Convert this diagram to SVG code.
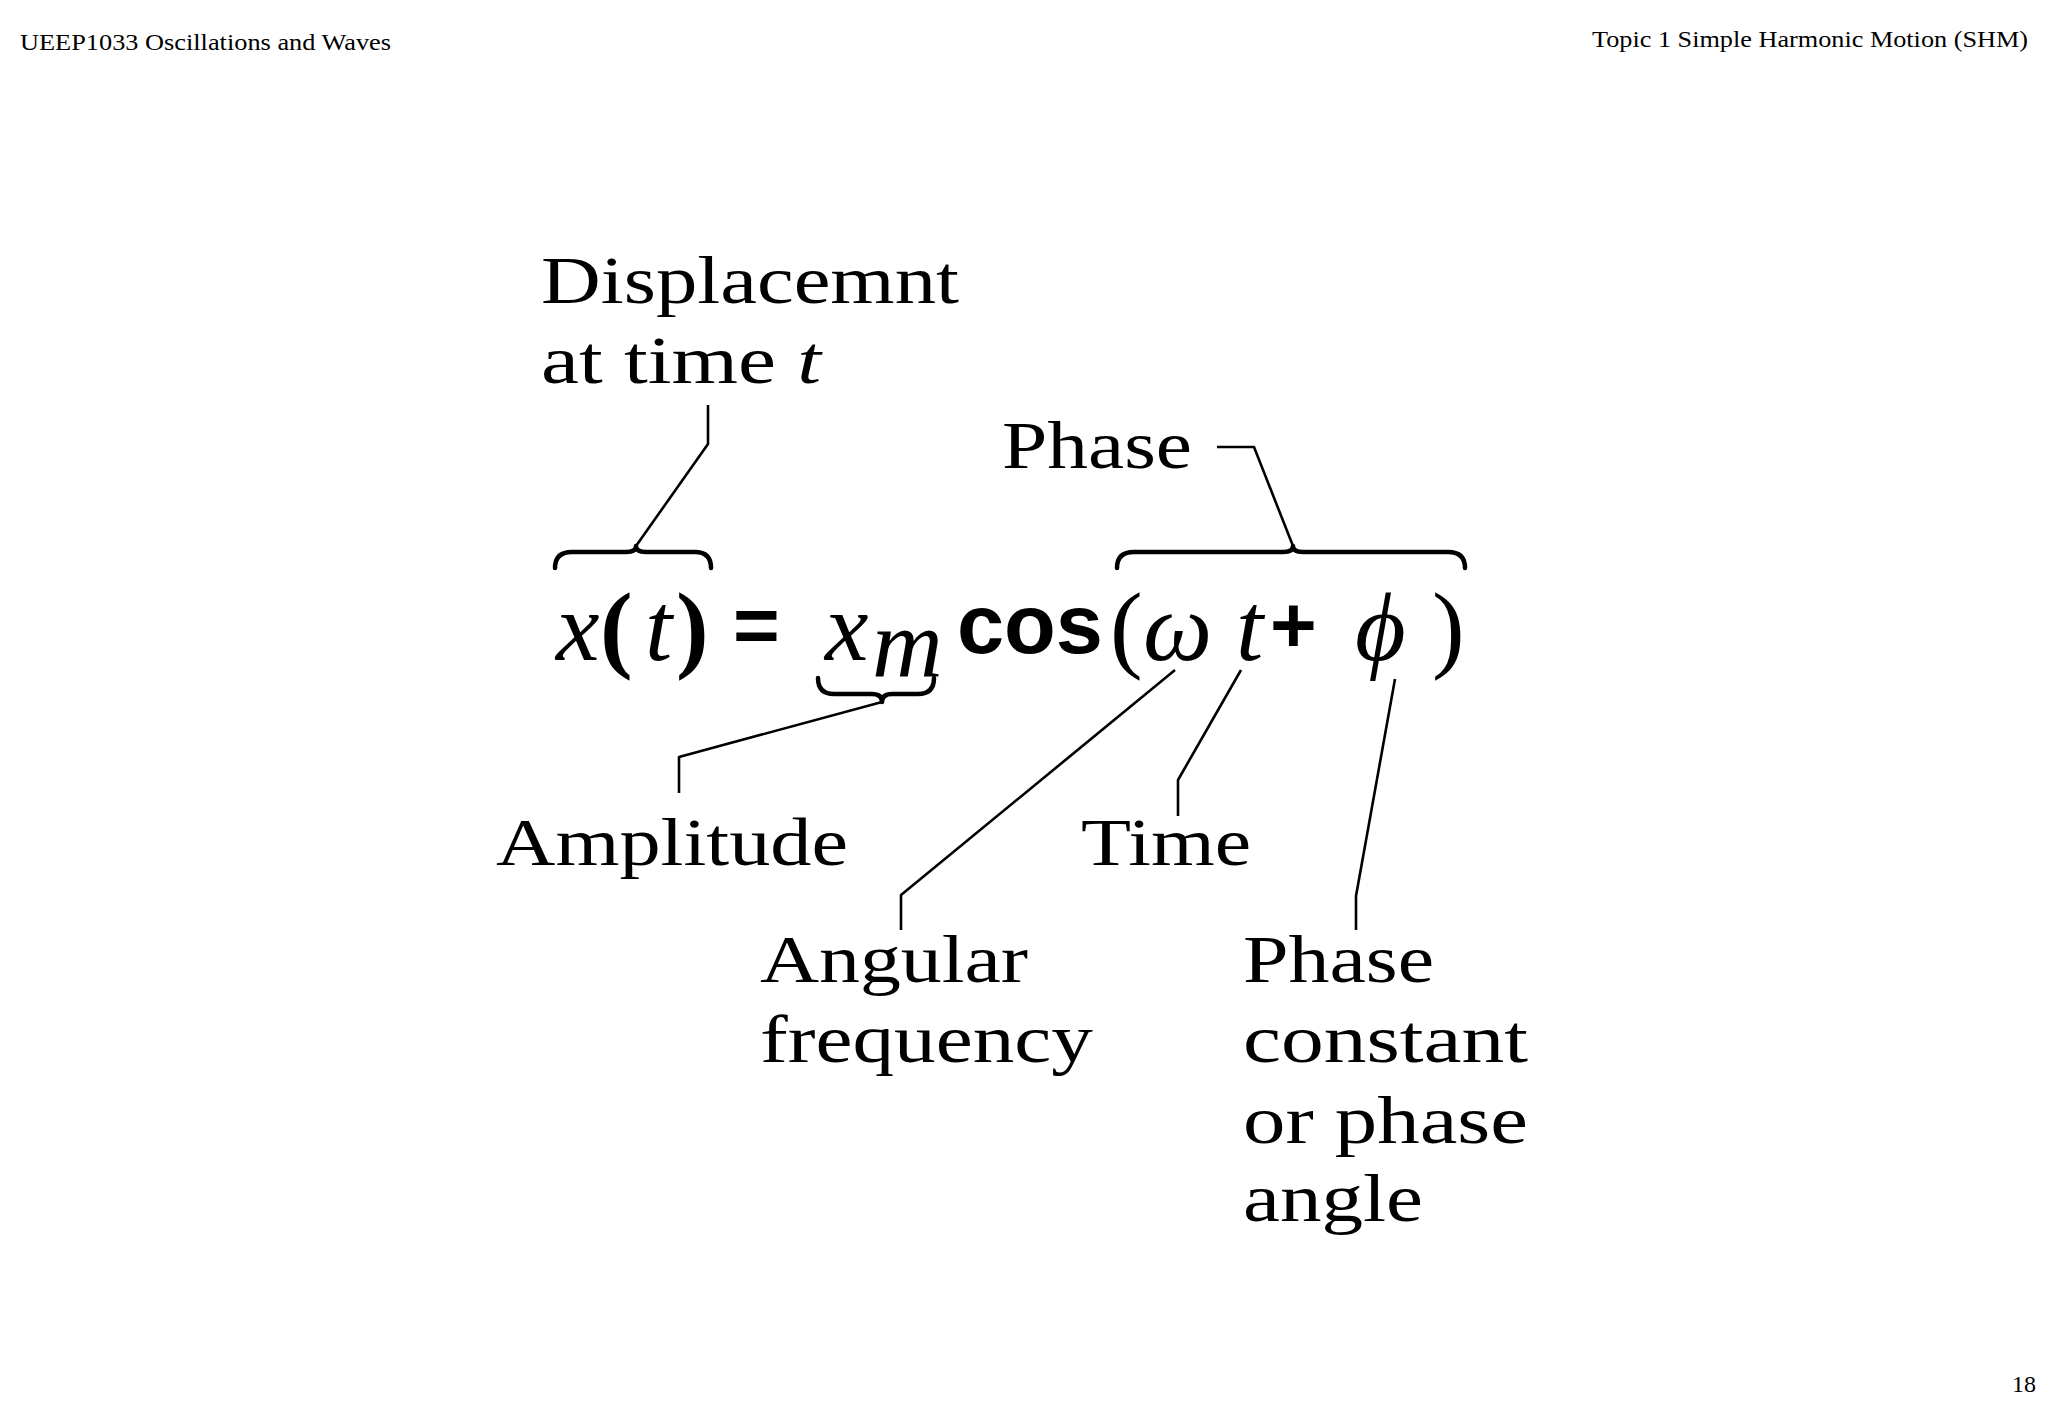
<svg xmlns="http://www.w3.org/2000/svg" width="2048" height="1418" viewBox="0 0 2048 1418">
<style>
.hd{font-family:"Liberation Serif",serif;font-size:24px;fill:#000}
.lb{font-family:"Liberation Serif",serif;font-size:68px;fill:#000}
.eq{font-family:"Liberation Serif",serif;font-style:italic;font-size:98px;fill:#000}
.eqn{font-family:"Liberation Serif",serif;font-size:98px;fill:#000}
.bd{font-family:"Liberation Sans",sans-serif;font-weight:bold;fill:#000}
.ln{fill:none;stroke:#000;stroke-width:2.6;stroke-linejoin:round}
.br{fill:none;stroke:#000;stroke-width:4.5;stroke-linejoin:round;stroke-linecap:round}
</style>
<rect width="2048" height="1418" fill="#fff"/>
<g id="header">
<text class="hd" x="20" y="50" textLength="371" lengthAdjust="spacingAndGlyphs">UEEP1033 Oscillations and Waves</text>
<text class="hd" x="1592" y="47" textLength="436" lengthAdjust="spacingAndGlyphs">Topic 1 Simple Harmonic Motion (SHM)</text>
<text class="hd" x="2012" y="1392">18</text>
</g>
<g id="equation">
<text class="eq" x="556" y="660">x</text>
<text class="eqn" x="600" y="660" font-weight="bold">(</text>
<text class="eq" x="645" y="660">t</text>
<text class="eqn" x="676" y="660" font-weight="bold">)</text>
<text class="bd" x="733" y="652" font-size="80">=</text>
<text class="eq" x="825" y="660">x</text>
<text class="eq" x="872" y="676" font-size="66">m</text>
<text class="bd" x="957" y="653" font-size="84" textLength="146" lengthAdjust="spacingAndGlyphs">cos</text>
<text class="eqn" x="1110" y="660">(</text>
<text class="eq" x="1143" y="660">ω</text>
<text class="eq" x="1236" y="660">t</text>
<text class="bd" x="1270" y="652" font-size="80">+</text>
<text class="eq" x="1355" y="660">ϕ</text>
<text class="eqn" x="1432" y="660">)</text>
</g>
<g id="n-displacement">
<text class="lb" x="541" y="303" textLength="418" lengthAdjust="spacingAndGlyphs">Displacemnt</text>
<text class="lb" x="541" y="383" textLength="280" lengthAdjust="spacingAndGlyphs">at time <tspan font-style="italic">t</tspan></text>
</g>
<g id="n-phase"><text class="lb" x="1002" y="468" textLength="190" lengthAdjust="spacingAndGlyphs">Phase</text></g>
<g id="n-amplitude"><text class="lb" x="496" y="865" textLength="352" lengthAdjust="spacingAndGlyphs">Amplitude</text></g>
<g id="n-time"><text class="lb" x="1081" y="865" textLength="170" lengthAdjust="spacingAndGlyphs">Time</text></g>
<g id="n-angular">
<text class="lb" x="760" y="982" textLength="268" lengthAdjust="spacingAndGlyphs">Angular</text>
<text class="lb" x="760" y="1062" textLength="333" lengthAdjust="spacingAndGlyphs">frequency</text>
</g>
<g id="n-phaseconst">
<text class="lb" x="1243" y="982" textLength="191" lengthAdjust="spacingAndGlyphs">Phase</text>
<text class="lb" x="1243" y="1062" textLength="285" lengthAdjust="spacingAndGlyphs">constant</text>
<text class="lb" x="1243" y="1143" textLength="285" lengthAdjust="spacingAndGlyphs">or phase</text>
<text class="lb" x="1243" y="1221" textLength="180" lengthAdjust="spacingAndGlyphs">angle</text>
</g>
<g id="connectors">
<path class="br" d="M555,568 Q555,552 572,552 L626,552 Q636,552 636,546 Q636,552 646,552 L695,552 Q711,552 711,568"/>
<path class="br" d="M1117,568 Q1117,552 1134,552 L1283,552 Q1293,552 1293,546 Q1293,552 1303,552 L1448,552 Q1465,552 1465,568"/>
<path class="br" d="M818,678 Q818,694 834,694 L872,694 Q882,694 882,702 Q882,694 892,694 L918,694 Q934,694 934,678"/>
<path class="ln" d="M636,546 L708,444 L708,405"/>
<path class="ln" d="M1293,546 L1254,447 L1217,447"/>
<path class="ln" d="M882,702 L679,757 L679,793"/>
<path class="ln" d="M1175,670 L901,895 L901,930"/>
<path class="ln" d="M1241,670 L1178,780 L1178,816"/>
<path class="ln" d="M1395,679 L1356,896 L1356,930"/>
</g>
</svg>
